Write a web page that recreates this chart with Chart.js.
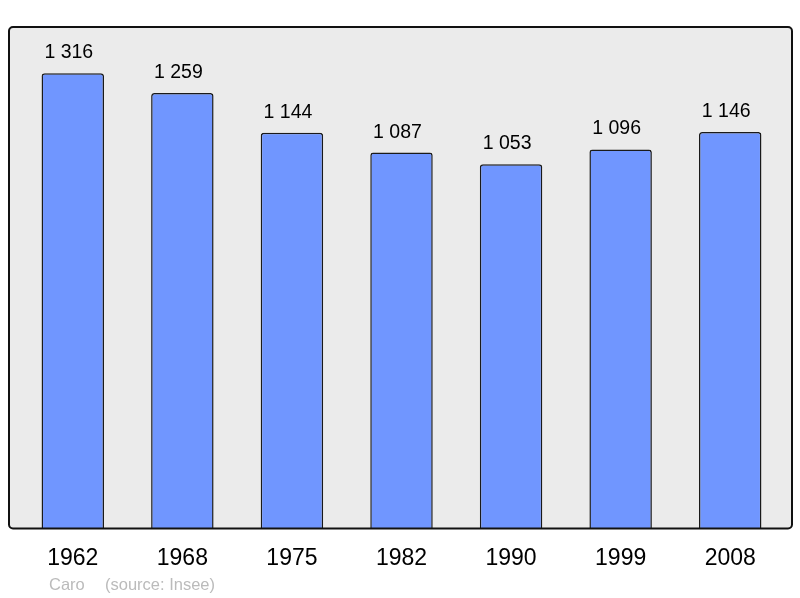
<!DOCTYPE html>
<html>
<head>
<meta charset="utf-8">
<script src="https://cdn.jsdelivr.net/npm/chart.js@4"></script>
<style>
  html, body { margin: 0; padding: 0; background: #fff; }
  #wrap { width: 800px; height: 598px; }
</style>
</head>
<body>
<div id="wrap"><canvas id="chart" width="800" height="598"></canvas></div>
<script>
var years = ['1962', '1968', '1975', '1982', '1990', '1999', '2008'];
var population = [1316, 1259, 1144, 1087, 1053, 1096, 1146];
var valueLabels = ['1 316', '1 259', '1 144', '1 087', '1 053', '1 096', '1 146'];

// frame behind and around the plot
var framePlugin = {
  id: 'frame',
  beforeDraw: function (chart) {
    var ctx = chart.ctx, a = chart.chartArea;
    ctx.save();
    ctx.fillStyle = '#ebebeb';
    ctx.beginPath();
    ctx.roundRect(9, a.top, 783, a.bottom - a.top, 4);
    ctx.fill();
    ctx.restore();
  },
  afterDatasetsDraw: function (chart) {
    var ctx = chart.ctx, a = chart.chartArea;
    ctx.save();
    ctx.strokeStyle = '#111';
    ctx.lineWidth = 2;
    ctx.beginPath();
    ctx.roundRect(9, a.top, 783, a.bottom - a.top, 4);
    ctx.stroke();

    // value labels over the bars (sit a little left of centre, like the original)
    var meta = chart.getDatasetMeta(0);
    ctx.fillStyle = '#000';
    ctx.font = '19.5px "Liberation Sans", Arial, sans-serif';
    ctx.textAlign = 'center';
    ctx.textBaseline = 'alphabetic';
    meta.data.forEach(function (bar, i) {
      ctx.fillText(valueLabels[i], bar.x - 4, bar.y - 15);
    });

    // credit line
    ctx.fillStyle = '#bbbbbb';
    ctx.font = '16.5px "Liberation Sans", Arial, sans-serif';
    ctx.textAlign = 'left';
    ctx.fillText('Caro', 49, 590);
    ctx.fillText('(source: Insee)', 105, 590);
    ctx.restore();
  }
};

new Chart(document.getElementById('chart'), {
  type: 'bar',
  data: {
    labels: years,
    datasets: [{
      data: population,
      backgroundColor: '#7096ff',
      borderColor: '#1a1a1a',
      borderWidth: 1.5,
      borderRadius: { topLeft: 3, topRight: 3 },
      borderSkipped: 'bottom',
      barPercentage: 0.57,
      categoryPercentage: 1
    }]
  },
  options: {
    responsive: false,
    animation: false,
    layout: { padding: { left: 18, right: 15, top: 27, bottom: 18 } },
    plugins: { legend: { display: false }, tooltip: { enabled: false } },
    scales: {
      y: { display: false, min: 0, max: 1450 },
      x: {
        grid: { display: false },
        border: { display: false },
        ticks: {
          color: '#000',
          padding: 8,
          font: { family: '"Liberation Sans", Arial, sans-serif', size: 23 }
        }
      }
    }
  },
  plugins: [framePlugin]
});
</script>
</body>
</html>
